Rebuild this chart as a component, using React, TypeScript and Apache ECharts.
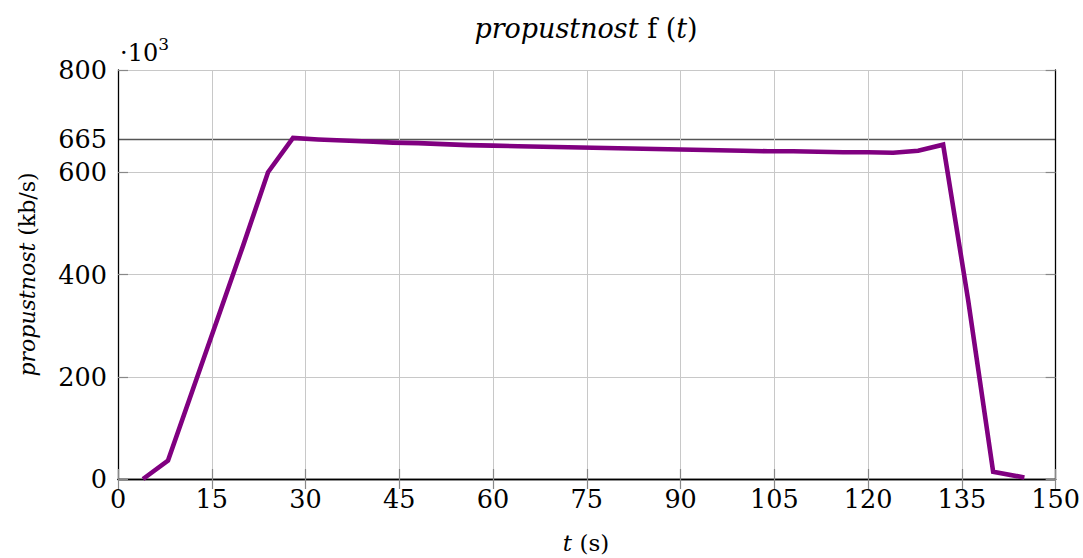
import React, { useEffect, useRef } from "react";
import * as echarts from "echarts";

const times = [4, 8, 12, 16, 20, 24, 28, 32, 36, 40, 44, 48, 52, 56, 60, 64, 68, 72, 76, 80, 84, 88, 92, 96, 100, 104, 108, 112, 116, 120, 124, 128, 132, 136, 140, 145];
const throughputK = [0, 36, 176, 316, 456, 600, 667, 664, 662, 660, 658, 657, 655, 653, 652, 651, 650, 649, 648, 647, 646, 645, 644, 643, 642, 641, 641, 640, 639, 639, 638, 642, 654, 350, 14, 3];
const xTicks = { min: 0, max: 150, interval: 15 };
const yTicks = { min: 0, max: 800, interval: 200 };
const markValue = 665;

const FONT = "DejaVu Serif";

export default function App() {
  const ref = useRef<HTMLDivElement>(null);
  useEffect(() => {
    if (!ref.current) return;
    const chart = echarts.init(ref.current, undefined, { renderer: "svg" });
    const data = times.map((t, i) => [t, throughputK[i]]);
    const tickStyle = { show: true, inside: true, length: 10, lineStyle: { color: "#888", width: 1.2 } };
    const axisLine = { show: true, lineStyle: { color: "#000", width: 1.3 } };
    chart.setOption({
      animation: false,
      backgroundColor: "#fff",
      textStyle: { fontFamily: FONT },
      grid: { left: 118, right: 27, top: 70, bottom: 79, containLabel: false },
      xAxis: [
        {
          type: "value",
          ...xTicks,
          position: "bottom",
          axisLine,
          axisTick: tickStyle,
          axisLabel: { fontFamily: FONT, fontSize: 25.5, color: "#000", margin: 7 },
          splitLine: { show: true, lineStyle: { color: "#c8c8c8", width: 1 } },
        },
        {
          type: "value",
          ...xTicks,
          position: "top",
          axisLine,
          axisTick: tickStyle,
          axisLabel: { show: false },
          splitLine: { show: false },
        },
      ],
      yAxis: [
        {
          type: "value",
          ...yTicks,
          position: "left",
          axisLine,
          axisTick: tickStyle,
          axisLabel: { fontFamily: FONT, fontSize: 25.5, color: "#000", margin: 11 },
          splitLine: { show: true, lineStyle: { color: "#c8c8c8", width: 1 } },
          name: "{i|propustnost }{r|(kb/s)}",
          nameLocation: "middle",
          nameGap: 80,
          nameRotate: 90,
          nameTextStyle: {
            fontFamily: FONT,
            fontSize: 22,
            color: "#000",
            rich: {
              i: { fontFamily: FONT, fontSize: 22, fontStyle: "italic", color: "#000" },
              r: { fontFamily: FONT, fontSize: 22, color: "#000" },
            },
          },
        },
        {
          type: "value",
          min: 0,
          max: 800,
          interval: markValue,
          position: "left",
          axisLine: { show: false },
          axisTick: { show: false },
          axisLabel: {
            fontFamily: FONT,
            fontSize: 25.5,
            color: "#000",
            margin: 11,
            formatter: (v: number) => (v === markValue ? String(markValue) : ""),
          },
          splitLine: {
            show: true,
            lineStyle: { color: ["rgba(0,0,0,0)", "#555", "rgba(0,0,0,0)"], width: 1.3 },
          },
        },
        {
          type: "value",
          ...yTicks,
          position: "right",
          axisLine,
          axisTick: tickStyle,
          axisLabel: { show: false },
          splitLine: { show: false },
        },
      ],
      series: [
        {
          type: "line",
          xAxisIndex: 0,
          yAxisIndex: 0,
          data,
          showSymbol: false,
          symbol: "none",
          lineStyle: { color: "#800080", width: 4.6, join: "miter", cap: "butt" },
          z: 5,
        },
      ],
      graphic: [
        {
          type: "text",
          x: 586,
          y: 28,
          style: {
            text: "{i|propustnost }{r|f (}{i|t}{r|)}",
            align: "center",
            verticalAlign: "middle",
            rich: {
              i: { fontFamily: FONT, fontSize: 27, fontStyle: "italic", fill: "#000" },
              r: { fontFamily: FONT, fontSize: 27, fill: "#000" },
            },
          },
        },
        {
          type: "text",
          x: 586,
          y: 543,
          style: {
            text: "{i|t }{r|(s)}",
            align: "center",
            verticalAlign: "middle",
            rich: {
              i: { fontFamily: FONT, fontSize: 23, fontStyle: "italic", fill: "#000" },
              r: { fontFamily: FONT, fontSize: 23, fill: "#000" },
            },
          },
        },
        {
          type: "text",
          x: 120,
          y: 50,
          style: {
            text: "{b|·10}{s|3}",
            align: "left",
            verticalAlign: "middle",
            rich: {
              b: { fontFamily: FONT, fontSize: 24, fill: "#000", verticalAlign: "bottom" },
              s: { fontFamily: FONT, fontSize: 17, fill: "#000", verticalAlign: "top", padding: [0, 0, 12, 0] },
            },
          },
        },
      ],
    });
    return () => chart.dispose();
  }, []);
  return <div ref={ref} style={{ position: "fixed", left: 0, top: 0, width: 1083, height: 558 }} />;
}
